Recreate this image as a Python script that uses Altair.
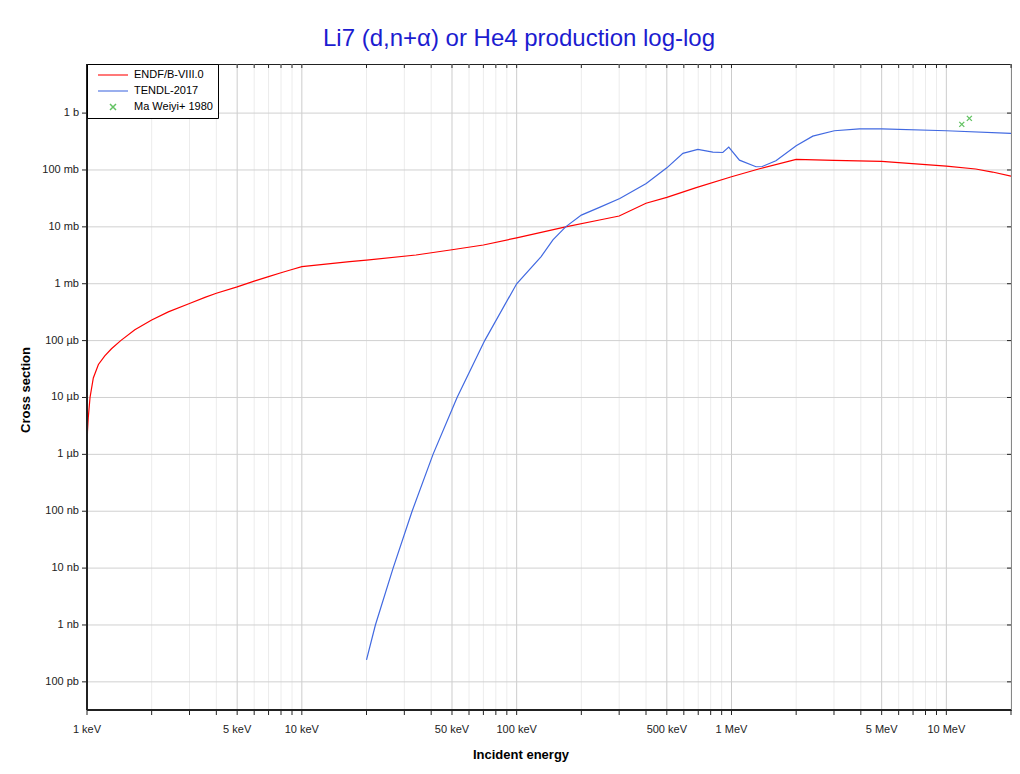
import altair as alt
import pandas as pd

# ---------------- data (energies in eV, cross sections in barns) ----------------
endf_e = [1000, 1005, 1014, 1033, 1070, 1130, 1210, 1300, 1435, 1670, 2000, 2390,
          3000, 3540, 4000, 5000, 6000, 7000, 8000, 9000, 10000, 16700, 20000,
          34000, 50000, 70000, 100000, 169000, 243000, 300000, 400000, 500000,
          685000, 1.0e6, 1.35e6, 2.0e6, 3.0e6, 5.0e6, 1.0e7, 1.37e7, 1.64e7, 2.0e7]
endf_xs = [1.0e-6, 2.5e-6, 4.5e-6, 1.0e-5, 2.2e-5, 3.8e-5, 5.4e-5, 7.2e-5, 1.0e-4,
           1.55e-4, 2.3e-4, 3.2e-4, 4.5e-4, 5.75e-4, 6.8e-4, 8.8e-4, 1.11e-3, 1.33e-3,
           1.56e-3, 1.78e-3, 2.0e-3, 2.44e-3, 2.6e-3, 3.2e-3, 3.96e-3, 4.8e-3, 6.4e-3,
           1.0e-2, 1.32e-2, 1.55e-2, 2.6e-2, 3.3e-2, 4.9e-2, 7.6e-2, 0.105, 0.153,
           0.148, 0.142, 0.117, 0.104, 0.092, 0.078]

tendl_e = [2.0e4, 2.2e4, 2.66e4, 3.26e4, 4.08e4, 5.28e4, 7.1e4, 1.0e5, 1.3e5, 1.475e5,
           1.69e5, 2.0e5, 2.43e5, 3.02e5, 4.01e5, 5.0e5, 5.94e5, 6.97e5, 8.19e5, 9.11e5,
           9.71e5, 1.089e6, 1.3e6, 1.39e6, 1.61e6, 2.0e6, 2.39e6, 3.01e6, 3.94e6, 5.0e6,
           1.0e7, 2.0e7]
tendl_xs = [2.44e-10, 1.0e-9, 1.0e-8, 1.0e-7, 1.0e-6, 1.0e-5, 1.0e-4, 1.0e-3, 3.0e-3,
            5.9e-3, 1.0e-2, 1.61e-2, 2.2e-2, 3.16e-2, 5.8e-2, 0.109, 0.196, 0.23, 0.206,
            0.203, 0.253, 0.149, 0.114, 0.115, 0.145, 0.267, 0.394, 0.489, 0.53, 0.53,
            0.489, 0.44]

exp_e = [1.18e7, 1.28e7]
exp_xs = [0.633, 0.807]

series_names = ["ENDF/B-VIII.0", "TENDL-2017", "Ma Weiyi+ 1980"]
series_colors = ["#ff0000", "#4169e1", "#22aa22"]

x_major_values = [1e3, 5e3, 1e4, 5e4, 1e5, 5e5, 1e6, 5e6, 1e7]
x_major_labels = ["1 keV", "5 keV", "10 keV", "50 keV", "100 keV", "500 keV",
                  "1 MeV", "5 MeV", "10 MeV"]
x_ticks = [m * 10 ** k for k in range(3, 7) for m in range(1, 10)] + [1e7, 2e7]
x_minor = [v for v in x_ticks if v not in x_major_values]

y_values = [1e-10, 1e-9, 1e-8, 1e-7, 1e-6, 1e-5, 1e-4, 1e-3, 1e-2, 1e-1, 1.0]
y_labels = ["100 pb", "1 nb", "10 nb", "100 nb", "1 µb", "10 µb", "100 µb",
            "1 mb", "10 mb", "100 mb", "1 b"]

chart_title = "Li7 (d,n+α) or He4 production log-log"
x_title = ["Incident energy"]
y_title = ["Cross section"]

# ---------------- tables ----------------
lines = pd.DataFrame({
    "E": endf_e + tendl_e,
    "xs": endf_xs + tendl_xs,
    "series": [series_names[0]] * len(endf_e) + [series_names[1]] * len(tendl_e),
})
pts = pd.DataFrame({"E": exp_e, "xs": exp_xs, "series": [series_names[2]] * len(exp_e)})
xmin_df = pd.DataFrame({"E": x_minor})
xmaj_df = pd.DataFrame({"E": x_major_values, "label": x_major_labels})
xall_df = pd.DataFrame({"E": x_ticks})
y_df = pd.DataFrame({"xs": y_values, "label": y_labels})
xt_df = pd.DataFrame({"t": x_title})
yt_df = pd.DataFrame({"t": y_title})

FONT = "Liberation Sans"
W, H = 924, 646
INK = "#222222"

x_scale = alt.Scale(type="log", domain=[1000, 2e7], nice=False)
y_scale = alt.Scale(type="log", domain=[3.2e-11, 7.3], nice=False)
color_scale = alt.Scale(domain=series_names, range=series_colors)
line_path = "M-3,0L3,0"
cross_path = "M-0.6,-0.6L0.6,0.6M-0.6,0.6L0.6,-0.6"
shape_scale = alt.Scale(domain=series_names, range=[line_path, line_path, cross_path])

X = lambda: alt.X("E:Q", scale=x_scale, axis=None)
Y = lambda: alt.Y("xs:Q", scale=y_scale, axis=None)

legend = alt.Legend(
    title=None, orient="none", legendX=0, legendY=0,
    strokeColor="#000000", fillColor="#ffffff", padding=5,
    symbolSize=100, symbolOffset=15, labelOffset=15, symbolStrokeWidth=1.5,
    labelFontSize=11, labelFont=FONT, labelColor="#000000", rowPadding=5,
    cornerRadius=0,
)

# grid lines
grid_minor = alt.Chart(xmin_df).mark_rule(color="#ececec", strokeWidth=1).encode(x=X())
grid_major = alt.Chart(xmaj_df).mark_rule(color="#cccccc", strokeWidth=1).encode(x=X())
grid_y = alt.Chart(y_df).mark_rule(color="#d0d0d0", strokeWidth=1).encode(y=Y())

# ticks (bottom/left outward, top/right inward)
bottom_ticks = alt.Chart(xall_df).mark_rule(color=INK, strokeWidth=1).encode(
    x=X(), y=alt.value(H), y2=alt.value(H + 5))
top_ticks = alt.Chart(xall_df).mark_rule(color=INK, strokeWidth=1).encode(
    x=X(), y=alt.value(0), y2=alt.value(4))
left_ticks = alt.Chart(y_df).mark_rule(color=INK, strokeWidth=1).encode(
    y=Y(), x=alt.value(-5), x2=alt.value(0))
right_ticks = alt.Chart(y_df).mark_rule(color=INK, strokeWidth=1).encode(
    y=Y(), x=alt.value(W - 4), x2=alt.value(W))

# axis lines (left and bottom, heavier)
left_line = alt.Chart(y_df).mark_rule(color=INK, strokeWidth=1.5).encode(
    x=alt.value(0), y=alt.value(0), y2=alt.value(H))
bottom_line = alt.Chart(y_df).mark_rule(color=INK, strokeWidth=1.5).encode(
    y=alt.value(H), x=alt.value(0), x2=alt.value(W))

# tick labels
x_lab = alt.Chart(xmaj_df).mark_text(
    font=FONT, fontSize=11, color=INK, baseline="top", align="center"
).encode(x=X(), y=alt.value(H + 14), text="label:N")
y_lab = alt.Chart(y_df).mark_text(
    font=FONT, fontSize=11, color=INK, baseline="middle", align="right"
).encode(y=Y(), x=alt.value(-8), text="label:N")

# axis titles
x_tit = alt.Chart(xt_df).mark_text(
    font=FONT, fontSize=13, fontWeight="bold", color="#000000",
    baseline="top", align="center"
).encode(x=alt.value(434), y=alt.value(H + 39), text="t:N")
y_tit = alt.Chart(yt_df).mark_text(
    font=FONT, fontSize=13, fontWeight="bold", color="#000000",
    baseline="middle", align="center", angle=270
).encode(x=alt.value(-61), y=alt.value(326), text="t:N")

line_layer = alt.Chart(lines).mark_line(clip=True, strokeWidth=1.2).encode(
    x=X(), y=Y(),
    color=alt.Color("series:N", scale=color_scale, legend=legend),
)

pt_layer = alt.Chart(pts).mark_point(clip=True, filled=False, size=70, strokeWidth=1.3).encode(
    x=X(), y=Y(),
    color=alt.Color("series:N", scale=color_scale, legend=legend),
    shape=alt.Shape("series:N", scale=shape_scale, legend=legend),
)

chart = alt.layer(
    grid_minor, grid_major, grid_y,
    bottom_ticks, top_ticks, left_ticks, right_ticks,
    x_lab, y_lab, x_tit, y_tit,
    line_layer, pt_layer,
    left_line, bottom_line,
).properties(
    width=W, height=H,
    autosize=alt.AutoSizeParams(type="none"),
    padding={"left": 87, "top": 64, "right": 9, "bottom": 64},
    title=alt.TitleParams(
        chart_title, font=FONT, fontSize=24,
        fontWeight="normal", color="#1c1cd0", anchor="middle", dx=-30, offset=12,
    ),
).configure_view(stroke=INK, strokeWidth=1)

chart.save("out.html", embed_options={"renderer": "svg", "actions": False})
